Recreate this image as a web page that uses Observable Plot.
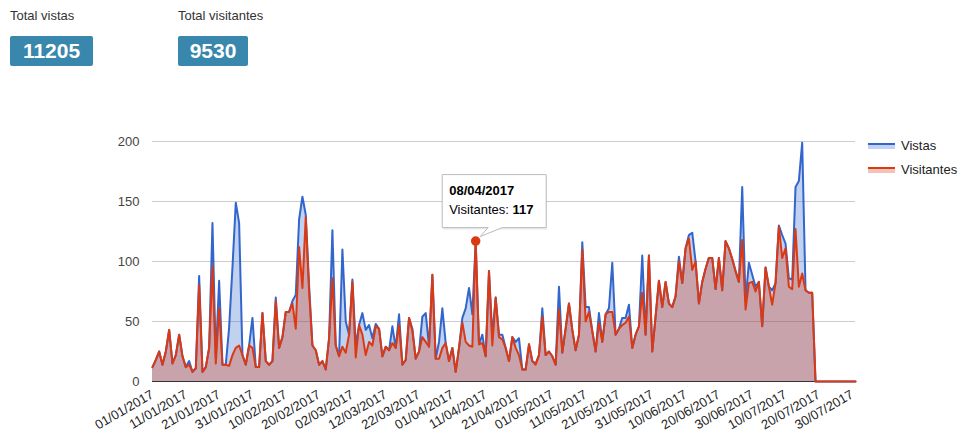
<!DOCTYPE html>
<html>
<head>
<meta charset="utf-8">
<script src="https://cdn.jsdelivr.net/npm/d3@7"></script>
<script src="https://cdn.jsdelivr.net/npm/@observablehq/plot@0.6"></script>
<style>
  html, body { margin: 0; padding: 0; background: #fff; }
  body { width: 959px; height: 440px; position: relative; overflow: hidden; font-family: Arial, "Liberation Sans", sans-serif; }
  .hdr { position: absolute; font-size: 13px; color: #333; }
  .badge { position: absolute; background: #3a87ad; color: #fff; font-weight: bold; font-size: 21px; height: 30px; line-height: 30px; text-align: center; border-radius: 2px; }
  #chart { position: absolute; left: 0; top: 80px; }
  .legend { position: absolute; left: 868px; font-size: 13px; color: #222; display: flex; align-items: center; }
  .legend svg { margin-right: 5px; }
</style>
</head>
<body>
<div class="hdr" style="left:10px; top:8px;">Total vistas</div>
<div class="badge" style="left:10px; top:36px; width:83px;">11205</div>
<div class="hdr" style="left:178px; top:8px;">Total visitantes</div>
<div class="badge" style="left:178px; top:36px; width:70px;">9530</div>
<div id="chart"></div>
<div class="legend" style="top:138px;"><svg width="28" height="10"><rect x="0" y="3" width="27" height="5" fill="#3366cc" fill-opacity="0.3"></rect><line x1="0" x2="27" y1="3" y2="3" stroke="#3366cc" stroke-width="2"></line></svg><span>Vistas</span></div>
<div class="legend" style="top:162px;"><svg width="28" height="10"><rect x="0" y="3" width="27" height="5" fill="#dc3912" fill-opacity="0.3"></rect><line x1="0" x2="27" y1="3" y2="3" stroke="#dc3912" stroke-width="2"></line></svg><span>Visitantes</span></div>
<script>
// Series names
const seriesNames = ["Vistas", "Visitantes"];
// Daily values starting 01/01/2017 (one per day through 31/07/2017)
const visitantes = [
  12, 18, 25, 14, 25, 43, 15, 22, 39, 21,
  12, 14, 8, 11, 80, 8, 12, 28, 96, 15,
  61, 14, 14, 13, 22, 28, 30, 22, 14, 30,
  28, 12, 12, 57, 17, 14, 17, 67, 28, 37,
  58, 58, 65, 44, 112, 78, 137, 75, 30, 26,
  14, 17, 10, 36, 86, 30, 21, 29, 24, 39,
  83, 20, 47, 39, 22, 33, 30, 46, 44, 21,
  29, 26, 32, 28, 47, 14, 18, 53, 42, 19,
  25, 37, 33, 29, 89, 19, 19, 28, 32, 17,
  28, 8, 28, 49, 33, 30, 29, 117, 31, 32,
  21, 92, 30, 70, 37, 35, 28, 17, 37, 28,
  22, 10, 10, 31, 17, 14, 22, 54, 22, 25,
  21, 14, 60, 24, 44, 65, 43, 26, 39, 110,
  50, 58, 42, 25, 49, 33, 56, 58, 58, 39,
  44, 47, 49, 54, 28, 39, 46, 74, 39, 105,
  25, 54, 84, 62, 83, 65, 62, 71, 100, 82,
  111, 119, 93, 100, 65, 83, 94, 103, 103, 77,
  103, 76, 117, 111, 102, 92, 83, 118, 60, 82,
  83, 75, 83, 46, 95, 79, 64, 82, 129, 103,
  111, 79, 77, 127, 79, 90, 76, 74, 74, 0,
  0, 0, 0, 0, 0, 0, 0, 0, 0, 0,
  0, 0
];
const vistas = [
  12, 18, 25, 14, 25, 43, 15, 22, 39, 21,
  12, 17, 8, 11, 88, 8, 12, 28, 132, 20,
  84, 14, 14, 45, 95, 149, 132, 22, 14, 30,
  53, 12, 12, 57, 17, 14, 17, 70, 28, 37,
  58, 58, 67, 72, 135, 154, 139, 80, 30, 26,
  14, 17, 10, 36, 126, 30, 21, 110, 50, 39,
  85, 30, 47, 57, 43, 47, 36, 48, 44, 21,
  29, 26, 46, 28, 56, 14, 18, 53, 44, 19,
  25, 54, 57, 29, 89, 19, 33, 61, 32, 17,
  28, 8, 28, 53, 61, 78, 56, 117, 31, 39,
  21, 92, 38, 70, 39, 39, 28, 17, 37, 33,
  36, 10, 10, 31, 17, 15, 22, 61, 22, 25,
  21, 14, 79, 24, 44, 65, 43, 26, 39, 116,
  62, 62, 42, 25, 57, 33, 56, 61, 99, 39,
  44, 53, 53, 64, 28, 39, 46, 105, 39, 105,
  25, 54, 84, 62, 83, 65, 62, 71, 104, 82,
  111, 122, 124, 100, 65, 83, 94, 103, 103, 77,
  103, 76, 117, 111, 102, 92, 83, 162, 67, 99,
  89, 79, 83, 46, 95, 79, 76, 82, 130, 122,
  115, 86, 85, 162, 167, 199, 76, 74, 74, 0,
  0, 0, 0, 0, 0, 0, 0, 0, 0, 0,
  0, 0
];
// X-axis tick labels
const tickLabels = ["01/01/2017","11/01/2017","21/01/2017","31/01/2017","10/02/2017","20/02/2017","02/03/2017","12/03/2017","22/03/2017","01/04/2017","11/04/2017","21/04/2017","01/05/2017","11/05/2017","21/05/2017","31/05/2017","10/06/2017","20/06/2017","30/06/2017","10/07/2017","20/07/2017","30/07/2017"];
const yTicks = [0, 50, 100, 150, 200];
// Highlighted point (tooltip)
const highlightDate = "08/04/2017";

const parse = d3.utcParse("%d/%m/%Y");
const fmt = d3.utcFormat("%d/%m/%Y");
const start = parse("01/01/2017");
const data = visitantes.map((v, i) => ({
  date: d3.utcDay.offset(start, i),
  visitantes: v,
  vistas: vistas[i]
}));
const end = data[data.length - 1].date;
const hl = data.filter(d => fmt(d.date) === highlightDate);

const chart = Plot.plot({
  width: 959,
  height: 360,
  marginLeft: 152,
  marginRight: 104,
  marginTop: 61,
  marginBottom: 59,
  style: { fontFamily: "Arial, 'Liberation Sans', sans-serif", fontSize: "13px", color: "#444", background: "transparent" },
  x: { type: "utc", domain: [start, end], label: null },
  y: { domain: [0, 200], label: null },
  marks: [
    Plot.ruleY(yTicks.filter(t => t > 0), { stroke: "#cccccc", strokeWidth: 1 }),
    Plot.areaY(data, { x: "date", y: "vistas", fill: "#3366cc", fillOpacity: 0.3 }),
    Plot.areaY(data, { x: "date", y: "visitantes", fill: "#dc3912", fillOpacity: 0.3 }),
    Plot.lineY(data, { x: "date", y: "vistas", stroke: "#3366cc", strokeWidth: 2 }),
    Plot.ruleY([0], { stroke: "#333333", strokeWidth: 1 }),
    Plot.lineY(data, { x: "date", y: "visitantes", stroke: "#dc3912", strokeWidth: 2 }),
    Plot.dot(hl, { x: "date", y: "visitantes", r: 4, fill: "#dc3912", stroke: "#dc3912" }),
    Plot.axisY({ ticks: yTicks, tickSize: 0, tickPadding: 13, fill: "#444", fontSize: 13 }),
    Plot.axisX({ ticks: tickLabels.map(parse), tickFormat: fmt, tickSize: 0, tickPadding: 12, tickRotate: -30, fill: "#222", fontSize: 13 })
  ]
});
document.getElementById("chart").appendChild(chart);

// Tooltip overlay positioned through the plot's scales
const sx = chart.scale("x"), sy = chart.scale("y");
const px = sx.apply(hl[0].date), py = sy.apply(hl[0].visitantes);
const svg = d3.select(chart);
const g = svg.append("g").attr("text-anchor", "start").attr("font-family", "Arial, 'Liberation Sans', sans-serif");
const bx = px - 33, by = py - 66, bw = 104, bh = 53;
g.append("rect").attr("x", bx + 1).attr("y", by + 2).attr("width", bw).attr("height", bh).attr("fill", "#000").attr("fill-opacity", 0.08);
g.append("path")
  .attr("d", `M${bx},${by} H${bx + bw} V${by + bh} H${px + 27} L${px + 5},${py - 4} L${px + 13},${by + bh} H${bx} Z`)
  .attr("fill", "#fff").attr("stroke", "#bbb").attr("stroke-width", 1);
g.append("text").attr("x", bx + 7).attr("y", by + 20).attr("font-size", 13).attr("font-weight", "bold").attr("fill", "#000").text(fmt(hl[0].date));
const t2 = g.append("text").attr("x", bx + 7).attr("y", by + 39).attr("font-size", 13).attr("fill", "#000");
t2.append("tspan").text(seriesNames[1] + ": ");
t2.append("tspan").attr("font-weight", "bold").text(hl[0].visitantes);
</script>
</body>
</html>
